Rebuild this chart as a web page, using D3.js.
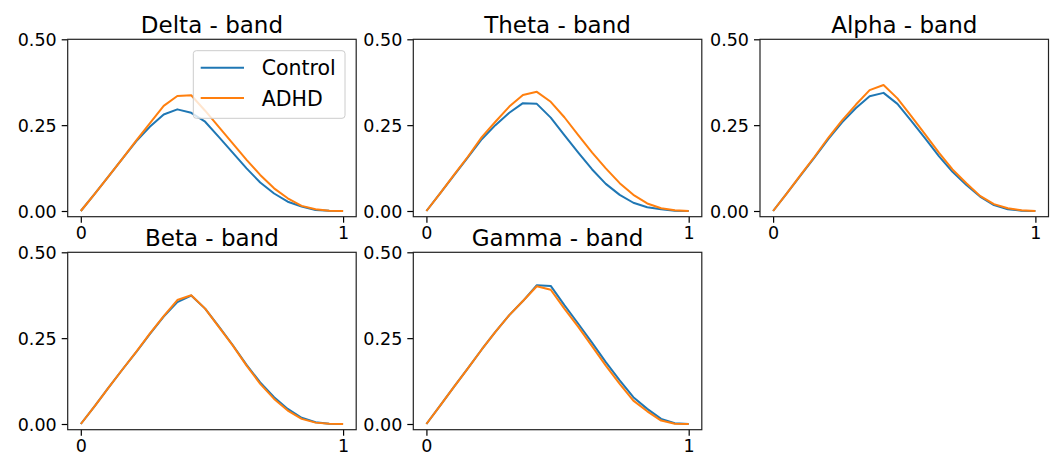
<!DOCTYPE html>
<html>
<head>
<meta charset="utf-8">
<script src="https://cdn.jsdelivr.net/npm/d3@7"></script>
<style>
  body { margin: 0; background: #fff; }
  svg text { font-family: "DejaVu Sans", sans-serif; fill: #000; }
</style>
</head>
<body>
<div id="container"></div>
<script>
/* DATA */
const bands = ["Delta - band", "Theta - band", "Alpha - band", "Beta - band", "Gamma - band"];
const seriesNames = ["Control", "ADHD"];
const xValues = [0, 0.053, 0.105, 0.158, 0.211, 0.263, 0.316, 0.368, 0.421, 0.474,
                 0.526, 0.579, 0.632, 0.684, 0.737, 0.789, 0.842, 0.895, 0.947, 1];

const deltaControl = [0, 0.05, 0.10, 0.152, 0.203, 0.245, 0.281, 0.296, 0.286, 0.26, 0.216, 0.170, 0.124, 0.083, 0.051, 0.027, 0.013, 0.003, 0.0005, 0];
const deltaADHD    = [0, 0.05, 0.10, 0.152, 0.205, 0.255, 0.306, 0.335, 0.337, 0.292, 0.245, 0.197, 0.149, 0.105, 0.066, 0.037, 0.015, 0.005, 0.001, 0];
const thetaControl = [0, 0.052, 0.104, 0.156, 0.209, 0.250, 0.286, 0.314, 0.312, 0.272, 0.221, 0.170, 0.121, 0.079, 0.047, 0.024, 0.011, 0.005, 0.001, 0];
const thetaADHD    = [0, 0.052, 0.105, 0.158, 0.215, 0.260, 0.304, 0.338, 0.347, 0.318, 0.273, 0.221, 0.170, 0.124, 0.081, 0.047, 0.022, 0.008, 0.002, 0];
const alphaControl = [0, 0.052, 0.104, 0.156, 0.210, 0.258, 0.300, 0.334, 0.344, 0.312, 0.263, 0.212, 0.160, 0.114, 0.076, 0.042, 0.017, 0.005, 0.001, 0];
const alphaADHD    = [0, 0.052, 0.105, 0.158, 0.214, 0.264, 0.310, 0.352, 0.367, 0.328, 0.277, 0.224, 0.170, 0.121, 0.081, 0.044, 0.020, 0.008, 0.002, 0];
const betaControl  = [0, 0.052, 0.105, 0.158, 0.209, 0.262, 0.313, 0.355, 0.374, 0.336, 0.284, 0.230, 0.172, 0.121, 0.078, 0.044, 0.018, 0.005, 0.001, 0];
const betaADHD     = [0, 0.052, 0.105, 0.158, 0.210, 0.263, 0.314, 0.361, 0.375, 0.336, 0.283, 0.229, 0.170, 0.117, 0.073, 0.039, 0.015, 0.004, 0.001, 0];
const gammaControl = [0, 0.054, 0.108, 0.162, 0.217, 0.268, 0.317, 0.358, 0.404, 0.402, 0.346, 0.292, 0.236, 0.180, 0.127, 0.078, 0.044, 0.015, 0.002, 0];
const gammaADHD    = [0, 0.054, 0.108, 0.162, 0.217, 0.268, 0.317, 0.358, 0.401, 0.391, 0.336, 0.283, 0.226, 0.170, 0.117, 0.068, 0.037, 0.010, 0.001, 0];

const yTicks = [0, 0.25, 0.5];
const xTicks = [0, 1];

const panels = [
  [deltaControl, deltaADHD],
  [thetaControl, thetaADHD],
  [alphaControl, alphaADHD],
  [betaControl, betaADHD],
  [gammaControl, gammaADHD]
];

/* LAYOUT */
const width = 1056, height = 452;
const colLeft = [67.7, 413.3, 760];
const rowTop = [39.3, 252.3];
const axW = 288.5, axH = 177.4;
const colors = ["#1f77b4", "#ff7f0e"];
const font = "DejaVu Sans";

const svg = d3.select("#container")
  .append("svg")
  .attr("width", width)
  .attr("height", height)
  .attr("font-family", font);

panels.forEach((pair, k) => {
  const left = colLeft[k % 3];
  const top = rowTop[Math.floor(k / 3)];

  const xScale = d3.scaleLinear().domain([-0.05, 1.05]).range([left, left + axW]);
  const yScale = d3.scaleLinear().domain([-0.0166, 0.5]).range([top + axH, top]);

  const g = svg.append("g");

  const line = d3.line()
    .x((d, i) => xScale(xValues[i]))
    .y(d => yScale(d));

  pair.forEach((vals, s) => {
    g.append("path")
      .datum(vals)
      .attr("fill", "none")
      .attr("stroke", colors[s])
      .attr("stroke-width", 2)
      .attr("stroke-linejoin", "round")
      .attr("d", line);
  });

  // y axis
  const ya = g.append("g")
    .attr("transform", `translate(${left},0)`)
    .call(d3.axisLeft(yScale).tickValues(yTicks).tickFormat(d3.format(".2f")).tickSize(6).tickPadding(5));
  ya.attr("font-family", font).attr("font-size", 17.5);
  ya.select(".domain").remove();
  ya.selectAll("line").attr("stroke", "#000").attr("stroke-width", 1.2);
  ya.selectAll("text").attr("dy", "0.36em");

  // x axis
  const xa = g.append("g")
    .attr("transform", `translate(0,${top + axH})`)
    .call(d3.axisBottom(xScale).tickValues(xTicks).tickFormat(d3.format("d")).tickSize(6).tickPadding(3.5));
  xa.attr("font-family", font).attr("font-size", 17.5);
  xa.select(".domain").remove();
  xa.selectAll("line").attr("stroke", "#000").attr("stroke-width", 1.2);

  // frame
  g.append("rect")
    .attr("x", left).attr("y", top)
    .attr("width", axW).attr("height", axH)
    .attr("fill", "none")
    .attr("stroke", "#222")
    .attr("stroke-width", 1.2);

  // title
  g.append("text")
    .attr("x", left + axW / 2)
    .attr("y", top - 6.3)
    .attr("text-anchor", "middle")
    .attr("font-size", 23)
    .text(bands[k]);

  // legend in first panel
  if (k === 0) {
    const lg = svg.append("g");
    lg.append("rect")
      .attr("x", 193.3).attr("y", 50.7)
      .attr("width", 151.7).attr("height", 67.6)
      .attr("rx", 3)
      .attr("fill", "#fff").attr("fill-opacity", 0.8)
      .attr("stroke", "#ccc");
    seriesNames.forEach((name, s) => {
      const cy = 67.7 + s * 30.3;
      lg.append("line")
        .attr("x1", 200.7).attr("x2", 244)
        .attr("y1", cy).attr("y2", cy)
        .attr("stroke", colors[s]).attr("stroke-width", 2);
      lg.append("text")
        .attr("x", 261.7).attr("y", cy + 7.6)
        .attr("font-size", 20.5)
        .text(name);
    });
  }
});
</script>
</body>
</html>
